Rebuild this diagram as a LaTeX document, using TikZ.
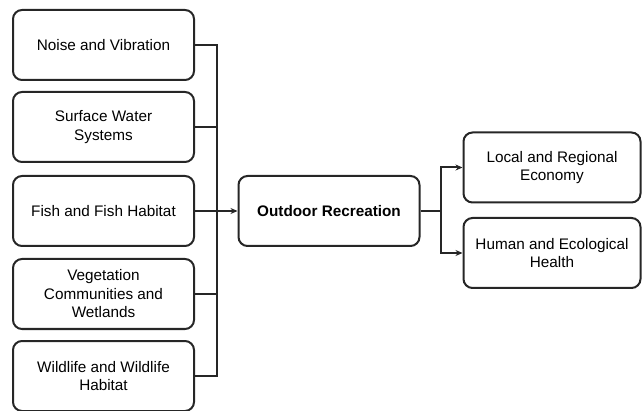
\documentclass[tikz,border=0pt]{standalone}
\usepackage{fontspec}
\setmainfont{Liberation Sans}
\usetikzlibrary{arrows.meta}
\definecolor{ink}{HTML}{262626}
\begin{document}
\begin{tikzpicture}[x=1pt,y=-1pt,
  box/.style={draw=ink, line width=2pt, rounded corners=9pt, align=center,
    minimum width=181pt, minimum height=70pt, inner sep=2pt,
    font=\fontsize{15.3}{18.5}\selectfont, text=black},
  conn/.style={draw=ink, line width=2pt},
  arr/.style={conn, -{Stealth[length=7pt,width=6pt]}}]
\useasboundingbox (0,0) rectangle (642,411);
\node[box] (b1) at (103.5,45) {Noise and Vibration};
\node[box] (b2) at (103.5,127) {Surface Water\\Systems};
\node[box] (b3) at (103.5,211) {Fish and Fish Habitat};
\node[box] (b4) at (103.5,294) {Vegetation\\Communities and\\Wetlands};
\node[box] (b5) at (103.5,376) {Wildlife and Wildlife\\Habitat};
\node[box, font=\fontsize{15.3}{18.5}\selectfont\bfseries] (c) at (329,211) {Outdoor Recreation};
\node[box, minimum width=177pt] (r1) at (552,167.5) {Local and Regional\\Economy};
\node[box, minimum width=177pt] (r2) at (552,253) {Human and Ecological\\Health};
\coordinate (jl) at (217,211);
\coordinate (jr) at (441,211);
\draw[conn] (b1.east) -| (jl);
\draw[conn] (b2.east) -| (jl);
\draw[conn] (b4.east) -| (jl);
\draw[conn] (b5.east) -| (jl);
\draw[arr] (b3.east) -- (c.west);
\draw[conn] (c.east) -- (jr);
\draw[arr] (jr) |- (r1.west);
\draw[arr] (jr) |- (r2.west);
\end{tikzpicture}
\end{document}
